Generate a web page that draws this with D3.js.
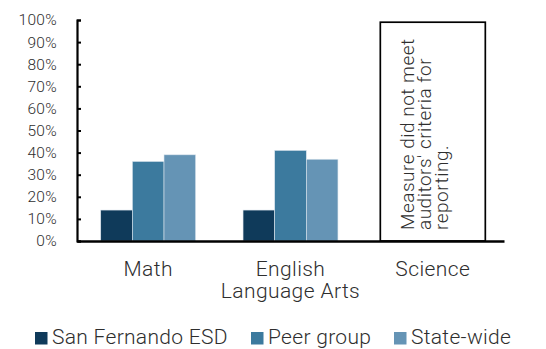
<!DOCTYPE html>
<html><head><meta charset="utf-8">
<script src="https://cdn.jsdelivr.net/npm/d3@7"></script>
<style>
body{margin:0;background:#fff;}
text{font-family:Roboto,"Liberation Sans",Arial,sans-serif;font-weight:300;fill:#2e2e2e;}
</style></head>
<body>
<svg id="chart" width="546" height="349"></svg>
<script>
const categories = ["Math", "English\nLanguage Arts", "Science"];
const seriesNames = ["San Fernando ESD", "Peer group", "State-wide"];
const sanFernando = [14, 14, null];
const peerGroup = [36, 41, null];
const stateWide = [39, 37, null];
const yTicks = [0,10,20,30,40,50,60,70,80,90,100];
const colors = ["#0f3a5a", "#3c7a9e", "#6594b5"];
const noteLines = ["Measure did not meet", "auditors' criteria for", "reporting."];

const series = [sanFernando, peerGroup, stateWide];
const svg = d3.select("#chart");
const m = {left:77, right:42, top:20, bottom:108};
const W = 546, H = 349;
const x0 = d3.scaleBand().domain(categories).range([m.left, W - m.right]).paddingInner(0.333).paddingOuter(0.1667);
const x1 = d3.scaleBand().domain(seriesNames).range([0, x0.bandwidth()]);
const y = d3.scaleLinear().domain([0,100]).range([H - m.bottom, m.top]);

// bars
categories.forEach((c, ci) => {
  series.forEach((s, si) => {
    if (s[ci] == null) return;
    svg.append("rect")
      .attr("x", x0(c) + x1(seriesNames[si]))
      .attr("y", y(s[ci]))
      .attr("width", x1.bandwidth())
      .attr("height", y(0) - y(s[ci]))
      .attr("fill", colors[si])
      .attr("stroke", "#dde6ee").attr("stroke-width", 0.6);
  });
});

// note box for Science
const sc = x0("Science") + x0.bandwidth()/2;
const box = svg.append("g");
box.append("rect")
  .attr("x", sc - 52.5).attr("y", y(99))
  .attr("width", 105).attr("height", y(0) - y(99))
  .attr("fill", "#fff").attr("stroke", "#000").attr("stroke-width", 1.7);
const tx = box.append("text")
  .attr("transform", `translate(${sc - 19},${y(0) - 11}) rotate(-90)`)
  .style("font-size", "19px").style("letter-spacing", "0.5px");
noteLines.forEach((l, i) => tx.append("tspan").attr("x", 0).attr("dy", i === 0 ? 0 : 17).text(l));

// y axis
const yAxis = d3.axisLeft(y).tickValues(yTicks).tickFormat(d => d + "%").tickSize(-4).tickPadding(20);
const gy = svg.append("g").attr("transform", `translate(${m.left},0)`).call(yAxis);
gy.attr("font-family", null);
gy.select(".domain").attr("stroke", "#000").attr("stroke-width", 2.2);
gy.selectAll(".tick line").attr("stroke", "#000").attr("stroke-width", 2);
gy.selectAll(".tick text").style("font-size", "15.5px").style("letter-spacing", "0.3px").attr("fill", "#2e2e2e");

// x axis
const gx = svg.append("g").attr("transform", `translate(0,${y(0)})`).call(d3.axisBottom(x0).tickSize(0).tickFormat(""));
gx.select(".domain").attr("stroke", "#000").attr("stroke-width", 2.5);
categories.forEach(c => {
  const cx = x0(c) + x0.bandwidth()/2;
  const t = svg.append("text").attr("x", cx).attr("y", y(0) + 35)
    .attr("text-anchor", "middle").style("font-size", "21px").style("letter-spacing", "0.4px");
  c.split("\n").forEach((l, i) => t.append("tspan").attr("x", cx).attr("dy", i === 0 ? 0 : 22).text(l));
});

// legend
const legX = [35, 251, 394];
seriesNames.forEach((n, i) => {
  svg.append("rect").attr("x", legX[i]).attr("y", 332).attr("width", 12.5).attr("height", 12.5).attr("fill", colors[i]);
  svg.append("text").attr("x", legX[i] + 17).attr("y", 344).style("font-size", "21px").style("letter-spacing", "0.3px").text(n);
});
</script>
</body></html>
